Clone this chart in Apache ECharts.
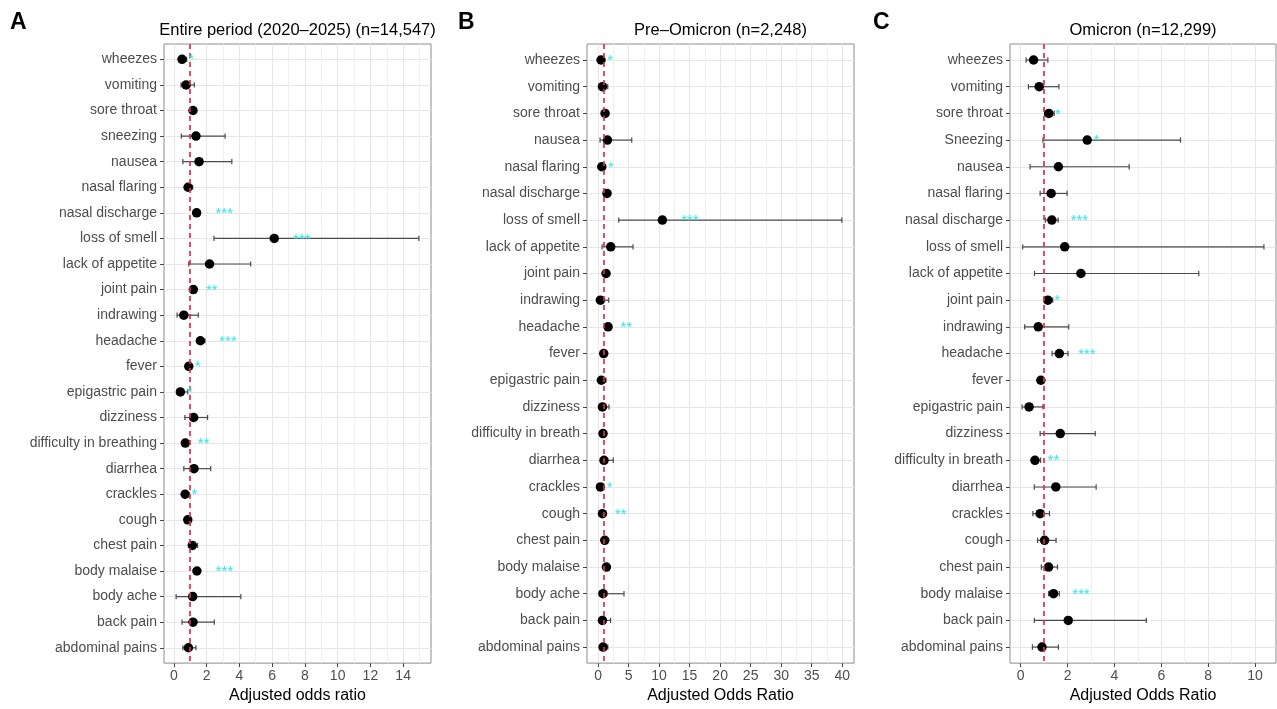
<!DOCTYPE html>
<html><head><meta charset="utf-8">
<script src="https://cdn.jsdelivr.net/npm/echarts@6/dist/echarts.min.js"></script>
<style>html,body{margin:0;padding:0;background:#fff}#c{width:1277px;height:709px}</style>
</head><body><div id="c"></div>
<script>
// ---------- Panel A ----------
const titleA = 'Entire period (2020\u20132025) (n=14,547)';
const catsA = ['wheezes','vomiting','sore throat','sneezing','nausea','nasal flaring','nasal discharge','loss of smell','lack of appetite','joint pain','indrawing','headache','fever','epigastric pain','dizziness','difficulty in breathing','diarrhea','crackles','cough','chest pain','body malaise','body ache','back pain','abdominal pains'];
const orA = [0.50,0.75,1.17,1.35,1.54,0.87,1.39,6.13,2.18,1.19,0.61,1.62,0.91,0.40,1.21,0.70,1.23,0.69,0.85,1.13,1.41,1.15,1.17,0.89];
const loA = [0.33,0.44,1.02,0.46,0.55,0.68,1.22,2.45,0.91,1.05,0.20,1.40,0.80,0.19,0.67,0.55,0.61,0.50,0.72,0.92,1.25,0.14,0.50,0.55];
const hiA = [0.78,1.25,1.33,3.13,3.54,1.15,1.60,14.96,4.69,1.36,1.49,1.90,1.02,0.85,2.06,0.90,2.25,0.92,1.00,1.45,1.60,4.09,2.47,1.35];
const sigA = ['*','','','','','','***','***','','**','','***','*','*','','**','','*','','','***','','',''];
const xMajorA = [0,2,4,6,8,10,12,14];
const xMinorA = [1,3,5,7,9,11,13,15];
const xNameA = 'Adjusted odds ratio';

// ---------- Panel B ----------
const titleB = 'Pre\u2013Omicron (n=2,248)';
const catsB = ['wheezes','vomiting','sore throat','nausea','nasal flaring','nasal discharge','loss of smell','lack of appetite','joint pain','indrawing','headache','fever','epigastric pain','dizziness','difficulty in breath','diarrhea','crackles','cough','chest pain','body malaise','body ache','back pain','abdominal pains'];
const orB = [0.49,0.72,1.15,1.54,0.61,1.47,10.54,2.08,1.31,0.39,1.64,0.93,0.55,0.72,0.82,0.98,0.39,0.72,1.10,1.37,0.82,0.72,0.82];
const loB = [0.25,0.30,0.80,0.33,0.30,1.00,3.39,0.66,1.00,0.20,1.20,0.70,0.22,0.30,0.60,0.40,0.18,0.50,0.80,1.05,0.20,0.30,0.45];
const hiB = [0.90,1.59,1.60,5.52,1.20,2.00,39.94,5.73,1.70,1.75,2.20,1.20,1.30,1.80,1.10,2.50,0.90,1.00,1.50,1.80,4.25,2.05,1.60];
const sigB = ['*','','','','*','','***','','','','**','','','','','','*','**','','','','',''];
const xMajorB = [0,5,10,15,20,25,30,35,40];
const xMinorB = [2.5,7.5,12.5,17.5,22.5,27.5,32.5,37.5];
const xNameB = 'Adjusted Odds Ratio';

// ---------- Panel C ----------
const titleC = 'Omicron (n=12,299)';
const catsC = ['wheezes','vomiting','sore throat','Sneezing','nausea','nasal flaring','nasal discharge','loss of smell','lack of appetite','joint pain','indrawing','headache','fever','epigastric pain','dizziness','difficulty in breath','diarrhea','crackles','cough','chest pain','body malaise','back pain','abdominal pains'];
const orC = [0.55,0.79,1.20,2.84,1.61,1.30,1.33,1.88,2.57,1.16,0.75,1.65,0.86,0.36,1.69,0.61,1.50,0.83,1.02,1.19,1.40,2.03,0.91];
const loC = [0.23,0.33,1.02,0.95,0.40,0.83,1.05,0.085,0.59,1.02,0.17,1.34,0.75,0.06,0.83,0.48,0.58,0.52,0.72,0.88,1.19,0.58,0.50];
const hiC = [1.16,1.63,1.43,6.82,4.63,1.98,1.60,10.38,7.60,1.37,2.05,2.02,0.98,0.95,3.18,0.85,3.22,1.23,1.51,1.57,1.65,5.36,1.61];
const sigC = ['','','*','*','','','***','','','*','','***','','','','**','','','','','***','',''];
const xMajorC = [0,2,4,6,8,10];
const xMinorC = [1,3,5,7,9];
const xNameC = 'Adjusted Odds Ratio';

const refLine = 1;
const tags = ['A','B','C'];

// ---------- build ----------
const FONT = '"Liberation Sans", Arial, Helvetica, sans-serif';
const panels = [
  {title: titleA, cats: catsA, or: orA, lo: loA, hi: hiA, sig: sigA, major: xMajorA, minor: xMinorA, xName: xNameA, left: 164, width: 267, tagLeft: 10},
  {title: titleB, cats: catsB, or: orB, lo: loB, hi: hiB, sig: sigB, major: xMajorB, minor: xMinorB, xName: xNameB, left: 587, width: 267, tagLeft: 458},
  {title: titleC, cats: catsC, or: orC, lo: loC, hi: hiC, sig: sigC, major: xMajorC, minor: xMinorC, xName: xNameC, left: 1010, width: 266, tagLeft: 873}
];
const TOP = 44, HEIGHT = 625;

const option = {
  animation: false,
  backgroundColor: '#fff',
  textStyle: {fontFamily: FONT},
  title: [], grid: [], xAxis: [], yAxis: [], series: []
};

panels.forEach((p, k) => {
  const a = Math.min(...p.lo), b = Math.max(...p.hi);
  const xmin = a - 0.05 * (b - a), xmax = b + 0.05 * (b - a);
  const n = p.cats.length;
  const idx = p.cats.map((_, i) => i);

  option.title.push({text: p.title, left: p.left + p.width / 2, top: 22, textAlign: 'center', padding: 0,
    textStyle: {fontSize: 16.5, fontWeight: 'normal', color: '#000', fontFamily: FONT}});
  option.title.push({text: tags[k], left: p.tagLeft, top: 11, padding: 0,
    textStyle: {fontSize: 23, fontWeight: 'bold', color: '#000', fontFamily: FONT}});

  option.grid.push({left: p.left, top: TOP, width: p.width, height: HEIGHT, show: true,
    borderColor: '#8c8c8c', borderWidth: 1, backgroundColor: 'transparent'});

  // main x axis
  option.xAxis.push({type: 'value', gridIndex: k, min: xmin, max: xmax, position: 'bottom',
    name: p.xName, nameLocation: 'middle', nameGap: 21,
    nameTextStyle: {fontSize: 16, color: '#000', fontFamily: FONT},
    axisLine: {show: false, onZero: false},
    axisTick: {show: true, length: 4, customValues: p.major, lineStyle: {color: '#444'}},
    axisLabel: {show: true, customValues: p.major, margin: 6, fontSize: 14, color: '#4d4d4d', fontFamily: FONT},
    splitLine: {show: true, lineStyle: {color: '#e6e6e6', width: 1}}
  });
  // minor x gridlines
  option.xAxis.push({type: 'value', gridIndex: k, min: xmin, max: xmax, position: 'top',
    axisLine: {show: false, onZero: false}, axisLabel: {show: false},
    axisTick: {show: false, customValues: p.minor},
    splitLine: {show: true, lineStyle: {color: '#f0f0f0', width: 1}}
  });
  const xMain = option.xAxis.length - 2;

  option.yAxis.push({type: 'value', gridIndex: k, min: -0.6, max: n - 0.4, inverse: true, position: 'left',
    axisLine: {show: false, onZero: false},
    axisTick: {show: true, length: 4, customValues: idx, lineStyle: {color: '#444'}},
    axisLabel: {show: true, customValues: idx, margin: 7, fontSize: 14, color: '#4d4d4d', fontFamily: FONT,
      formatter: v => p.cats[Math.round(v)] || ''},
    splitLine: {show: true, lineStyle: {color: '#e6e6e6', width: 1}}
  });
  const yIdx = option.yAxis.length - 1;

  // error bars
  option.series.push({type: 'custom', xAxisIndex: xMain, yAxisIndex: yIdx, z: 3,
    data: p.cats.map((c, i) => [p.lo[i], p.hi[i], i]),
    encode: {x: [0, 1], y: 2},
    renderItem: function (params, api) {
      const s = api.coord([api.value(0), api.value(2)]);
      const e = api.coord([api.value(1), api.value(2)]);
      const h = api.size([0, 1])[1] * 0.1;
      const st = {stroke: '#4a4a4a', lineWidth: 1.2};
      return {type: 'group', children: [
        {type: 'line', shape: {x1: s[0], y1: s[1], x2: e[0], y2: e[1]}, style: st},
        {type: 'line', shape: {x1: s[0], y1: s[1] - h, x2: s[0], y2: s[1] + h}, style: st},
        {type: 'line', shape: {x1: e[0], y1: e[1] - h, x2: e[0], y2: e[1] + h}, style: st}
      ]};
    }
  });
  // points + reference line
  option.series.push({type: 'scatter', xAxisIndex: xMain, yAxisIndex: yIdx, z: 4,
    data: p.or.map((v, i) => [v, i]), symbolSize: 9.5,
    itemStyle: {color: '#000', opacity: 1},
    markLine: {silent: true, symbol: ['none', 'none'], label: {show: false}, z: 5,
      lineStyle: {color: '#de2f48', type: [5, 4], width: 1.7},
      data: [{xAxis: refLine}]}
  });
  // significance stars
  option.series.push({type: 'custom', xAxisIndex: xMain, yAxisIndex: yIdx, z: 6,
    data: p.or.map((v, i) => [v, i, p.sig[i].length]).filter(d => d[2] > 0),
    encode: {x: 0, y: 1},
    renderItem: function (params, api) {
      const c = api.coord([api.value(0), api.value(1)]);
      const m = api.value(2);
      return {type: 'text', x: c[0] + 9.2 * m, y: c[1] + 1,
        style: {text: '*'.repeat(m), fill: '#2ee6f0', font: '15px ' + FONT, textAlign: 'center', textVerticalAlign: 'middle'}};
    }
  });
});

const chart = echarts.init(document.getElementById('c'), null, {renderer: 'canvas'});
chart.setOption(option);
</script>
</body></html>
